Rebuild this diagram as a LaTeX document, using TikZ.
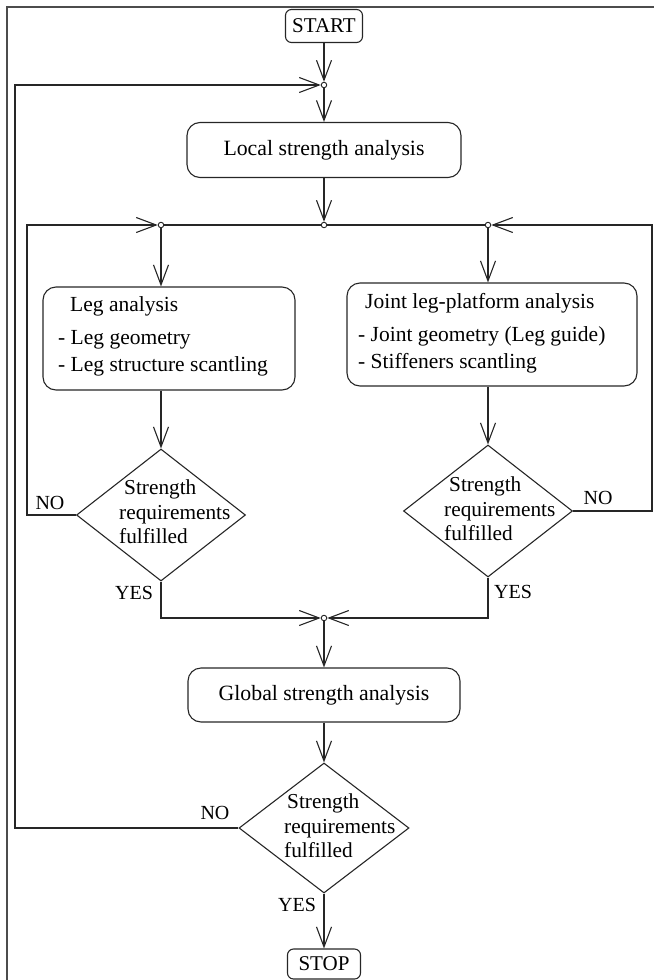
\documentclass[tikz,border=0pt]{standalone}
\usepackage{fontspec}
\setmainfont{Liberation Serif}
\usetikzlibrary{arrows.meta,shapes.geometric}
\begin{document}
\begin{tikzpicture}[x=1pt,y=-1pt,
  line/.style={line width=1.1pt, draw=black!85},
  arr/.style={line, -{Straight Barb[length=20pt,width=15pt,line width=1.1pt]}},
  rbox/.style={line, rounded corners=13pt, inner sep=0pt, font=\fontsize{21.8}{25}\selectfont},
  term/.style={line, rounded corners=6pt, inner sep=0pt, font=\fontsize{21}{25}\selectfont},
  dia/.style={line, diamond, inner sep=0pt},
  junc/.style={circle, line width=0.9pt, draw=black!85, fill=white, inner sep=0pt, minimum size=5.5pt},
  txt/.style={font=\fontsize{21.5}{27}\selectfont, inner sep=0pt, align=left, anchor=west},
  dtxt/.style={font=\fontsize{21.3}{24.5}\selectfont, inner sep=0pt, align=left, anchor=west},
  lbl/.style={font=\fontsize{20}{24}\selectfont, inner sep=0pt},
]
\useasboundingbox (0,0) rectangle (654,980);
\draw[line width=2pt, draw=black!70] (7,980) -- (7,7) -- (654,7);

% terminals and process boxes
\node[term, minimum width=77pt, minimum height=33pt] (start) at (324,26) {START};
\node[rbox, minimum width=274pt, minimum height=55pt] (local) at (324,150) {Local strength analysis};
\node[rbox, minimum width=252pt, minimum height=103pt] (leg) at (169,338.5) {};
\node[txt] (legt) at (58,336) {\hspace{12pt}Leg analysis\\[6pt]- Leg geometry\\- Leg structure scantling};
\node[rbox, minimum width=290pt, minimum height=103pt] (joint) at (492,334.5) {};
\node[txt] (jointt) at (358,333) {\hspace{7pt}Joint leg-platform analysis\\[6pt]- Joint geometry (Leg guide)\\- Stiffeners scantling};
\node[rbox, minimum width=272pt, minimum height=54pt] (global) at (324,695) {Global strength analysis};
\node[term, minimum width=73pt, minimum height=30pt] (stop) at (324,964) {STOP};

% decisions
\node[dia, minimum width=169pt, minimum height=132pt] (d1) at (161,515) {};
\node[dtxt] (d1t) at (119,512) {\hspace{5pt}Strength\\requirements\\fulfilled};
\node[dia, minimum width=169pt, minimum height=132pt] (d2) at (488,511) {};
\node[dtxt] (d2t) at (444,509) {\hspace{5pt}Strength\\requirements\\fulfilled};
\node[dia, minimum width=170pt, minimum height=130pt] (d3) at (324,828) {};
\node[dtxt] (d3t) at (284,826) {\hspace{3pt}Strength\\requirements\\fulfilled};

% junctions
\node[junc] (j0) at (324,85) {};
\node[junc] (j1) at (324,225) {};
\node[junc] (jl) at (161,225) {};
\node[junc] (jr) at (488,225) {};
\node[junc] (j2) at (324,618) {};
\coordinate (lx) at (15,85);
\coordinate (ll) at (27,225);
\coordinate (rr) at (652,225);

% labels
\node[lbl] (no1) at (50,503) {NO};
\node[lbl] (no2) at (598,498) {NO};
\node[lbl] (yes1) at (134,593) {YES};
\node[lbl] (yes2) at (513,592) {YES};
\node[lbl] (no3) at (215,813) {NO};
\node[lbl] (yes3) at (297,905) {YES};

% connectors
\draw[arr] (start) -- (j0);
\draw[arr] (j0) -- (local);
\draw[arr] (local) -- (j1);
\draw[line] (jl) -- (j1) -- (jr);
\draw[arr] (jl) -- (leg.north -| jl);
\draw[arr] (jr) -- (joint.north -| jr);
\draw[arr] (leg.south -| d1) -- (d1);
\draw[arr] (joint.south -| d2) -- (d2);
\draw[arr] (d1.west) -| (ll) -- (jl);
\draw[arr] (d2.east) -| (rr) -- (jr);
\draw[arr] (d1.south) |- (j2);
\draw[arr] (d2.south) |- (j2);
\draw[arr] (j2) -- (global);
\draw[arr] (global) -- (d3);
\draw[arr] (d3) -- (stop);
\draw[arr] (d3.west) -| (lx) -- (j0);
\end{tikzpicture}
\end{document}
